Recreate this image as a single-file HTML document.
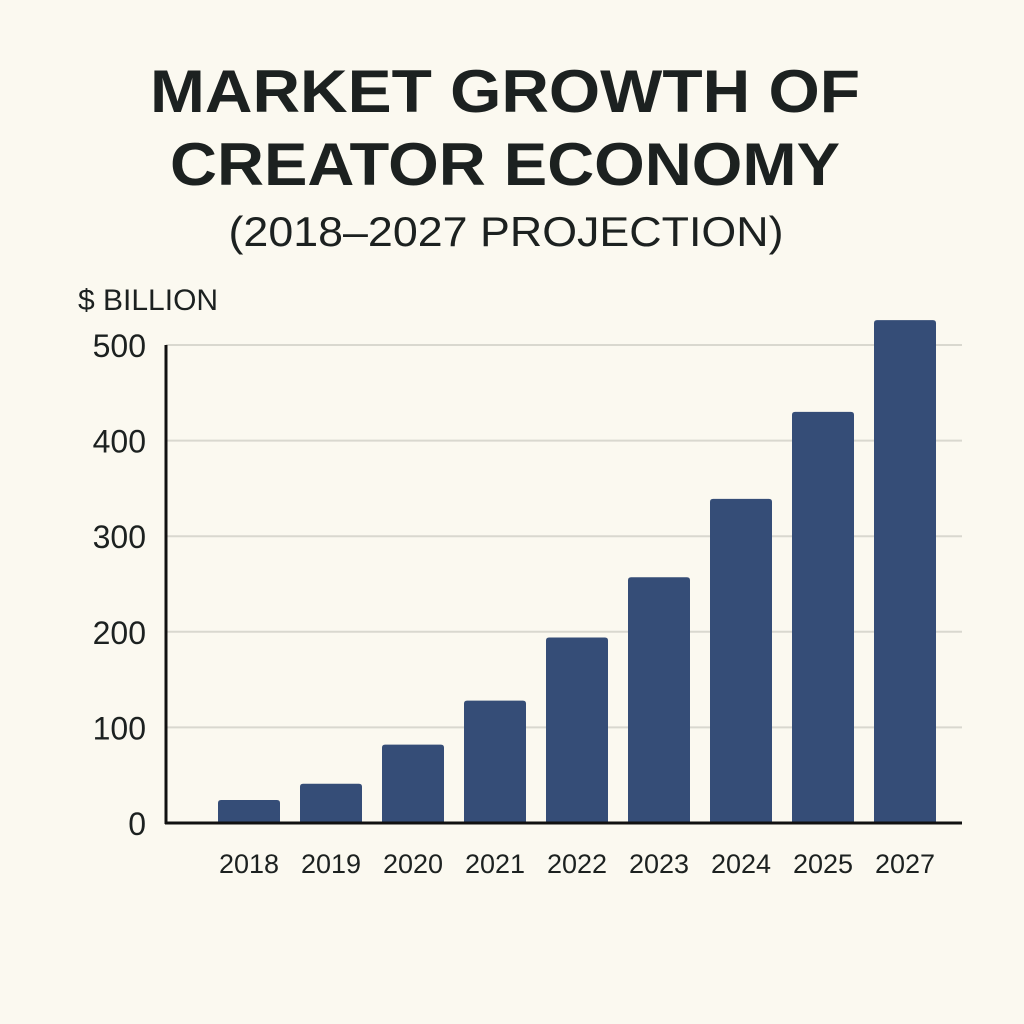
<!DOCTYPE html>
<html><head><meta charset="utf-8"><style>
html,body{margin:0;padding:0;background:#fbf9f0;}
svg{display:block;font-family:"Liberation Sans",sans-serif;}
</style></head><body>
<svg id="chart" width="1024" height="1024" viewBox="0 0 1024 1024">
<rect x="0" y="0" width="1024" height="1024" fill="#fbf9f0"/>
<text x="505" y="112" text-anchor="middle" font-size="60" font-weight="bold" fill="#1c2120" textLength="710" lengthAdjust="spacingAndGlyphs">MARKET GROWTH OF</text>
<text x="505" y="185" text-anchor="middle" font-size="60" font-weight="bold" fill="#1c2120" textLength="670" lengthAdjust="spacingAndGlyphs">CREATOR ECONOMY</text>
<text x="506" y="246" text-anchor="middle" font-size="42" fill="#1c2120" textLength="555" lengthAdjust="spacingAndGlyphs">(2018–2027 PROJECTION)</text>
<text x="78" y="310" font-size="30" fill="#1c2120">$ BILLION</text>
<g id="grid"></g>
<g id="bars"></g>
<g id="yticks"></g>
<g id="xticks"></g>
<line x1="166" y1="345" x2="166" y2="824" stroke="#111" stroke-width="3"/>
<line x1="165" y1="823" x2="962" y2="823" stroke="#111" stroke-width="3"/>
</svg>
<script>
const categories = ["2018","2019","2020","2021","2022","2023","2024","2025","2027"];
const values = [24, 41, 82, 128, 194, 257, 339, 430, 526];
const yTicks = [0, 100, 200, 300, 400, 500];
const NS = "http://www.w3.org/2000/svg";
const y0 = 823, pxPer = 0.956;
function yScale(v){ return y0 - v * pxPer; }
function xScale(i){ return 218 + i * 82; }
const barW = 62;
const grid = document.getElementById('grid');
const yt = document.getElementById('yticks');
yTicks.forEach(t => {
  const y = yScale(t);
  if (t > 0) {
    const l = document.createElementNS(NS, 'line');
    
    
    l.setAttribute('x1', 166); l.setAttribute('x2', 962);
    l.setAttribute('y1', y); l.setAttribute('y2', y);
    l.setAttribute('stroke', '#d9d8cf'); l.setAttribute('stroke-width', '2');
    grid.appendChild(l);
  }
  const tx = document.createElementNS(NS, 'text');
  
  
  tx.setAttribute('x', 146); tx.setAttribute('y', y + 12);
  tx.setAttribute('text-anchor', 'end'); tx.setAttribute('font-size', '32');
  tx.setAttribute('fill', '#1c2120');
  tx.textContent = t;
  yt.appendChild(tx);
});
const bars = document.getElementById('bars');
const xt = document.getElementById('xticks');
categories.forEach((c, i) => {
  const x = xScale(i), top = yScale(values[i]);
  const r = document.createElementNS(NS, 'path');
  
  
  const rad = 3;
  r.setAttribute('d', `M${x},${y0} L${x},${top+rad} Q${x},${top} ${x+rad},${top} L${x+barW-rad},${top} Q${x+barW},${top} ${x+barW},${top+rad} L${x+barW},${y0} Z`);
  r.setAttribute('fill', '#354d77');
  bars.appendChild(r);
  const tx = document.createElementNS(NS, 'text');
  
  
  tx.setAttribute('x', x + barW / 2); tx.setAttribute('y', 873);
  tx.setAttribute('text-anchor', 'middle'); tx.setAttribute('font-size', '27');
  tx.setAttribute('fill', '#1c2120');
  tx.textContent = c;
  xt.appendChild(tx);
});
</script>
</body></html>
